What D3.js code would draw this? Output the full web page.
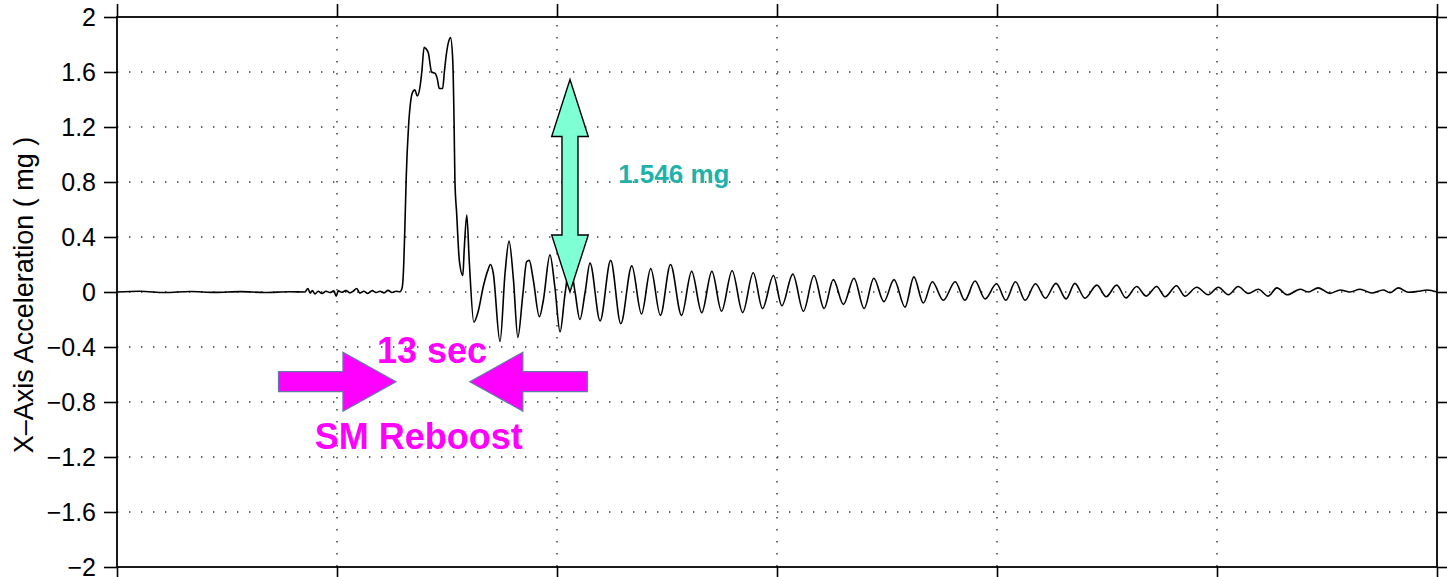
<!DOCTYPE html>
<html>
<head>
<meta charset="utf-8">
<script src="https://cdn.jsdelivr.net/npm/d3@7"></script>
<style>
  html, body { margin: 0; padding: 0; background: #fff; }
  svg { display: block; font-family: "Liberation Sans", Arial, Helvetica, sans-serif; }
</style>
</head>
<body>
<svg id="chart" width="1447" height="577"></svg>
<script>
// time since start of record (sec)
const timeSec = [
  0, 5.2, 10.9, 16.6, 22.3, 28.0, 33.6, 39.3, 42.7, 43.4, 43.9, 44.4, 45.0, 45.7, 46.6, 47.5,
  48.4, 49.3, 49.8, 50.3, 51.1, 52.0, 52.95, 53.6, 54.5, 55.2, 56.1, 57.0, 58.0, 58.9, 59.8,
  60.7, 61.6, 62.5, 63.4, 64.3, 64.8, 65.1, 65.45, 65.75, 66.25, 66.8, 67.3, 67.7, 68.25,
  68.9, 69.3, 69.8, 70.2, 70.75, 71.5, 72.3, 72.8, 73.25, 74.0, 74.4, 74.9, 75.45, 75.8,
  76.3, 76.6, 76.8, 77.2, 77.8, 78.6, 78.9, 79.5, 80.05, 81.1, 82.1, 83.25, 84.2, 84.9,
  85.5, 87.05, 88.2, 89.1, 90.1, 91.1, 92.2, 93.1, 93.7, 94.6, 96.0, 96.9, 98.4, 99.5,
  100.7, 101.8, 102.95, 104.1, 105.2, 106.4, 107.5, 109.8, 112.2, 114.5, 117.0, 119.2,
  121.3, 123.5, 125.8, 128.3, 130.6, 132.9, 135.2, 137.4, 139.8, 142.2, 144.6, 146.7,
  149.2, 151.1, 153.6, 156.0, 158.4, 160.7, 162.8, 165.1, 167.5, 169.8, 172.0, 174.3,
  176.6, 179.1, 181.1, 183.25, 185.3, 187.8, 190.5, 192.7, 195.0, 197.3, 199.9, 202.0,
  204.2, 206.4, 208.75, 211.0, 213.4, 215.7, 217.7, 220.0, 222.7, 224.8, 227.2, 229.3,
  231.75, 233.9, 236.3, 238.2, 240.8, 242.7, 245.4, 248.0, 250.3, 252.6, 254.8, 257.1,
  259.4, 261.65, 263.6, 266.0, 268.9, 270.75, 273.0, 275.7, 278.0, 280.2, 282.5, 285.2,
  287.8, 289.3, 291.2, 293.5, 295.7, 297.8, 300
];

// X-axis acceleration (mg)
const accelMg = [
  0, 0.005, -0.004, 0.004, -0.003, 0.003, -0.004, 0.002, 0.0, 0.025, -0.008, 0.01, -0.015, 0.006, -0.01, 0.006,
  -0.004, 0.008, -0.03, 0.008, -0.002, 0.01, -0.006, 0.004, 0.025, -0.008, 0.006, -0.01, 0.01, -0.004, 0.006,
  -0.006, 0.012, -0.004, 0.006, 0.002, 0.03, 0.15, 0.5, 0.85, 1.2, 1.4, 1.46, 1.47, 1.425,
  1.5, 1.61, 1.78, 1.77, 1.74, 1.60, 1.59, 1.55, 1.48, 1.48, 1.6, 1.74, 1.83, 1.85,
  1.69, 1.25, 0.81, 0.57, 0.23, 0.12, 0.30, 0.56, 0.23, -0.22, -0.14, 0.04, 0.15, 0.20,
  0.14, -0.36, 0.14, 0.37, 0.09, -0.33, -0.03, 0.22, 0.23, 0.09, -0.18, -0.06, 0.27, 0.04,
  -0.29, -0.02, 0.2, 0.0, -0.2, 0.0, 0.21, -0.21, 0.23, -0.23, 0.19, -0.16,
  0.17, -0.17, 0.20, -0.17, 0.15, -0.15, 0.15, -0.14, 0.155, -0.15, 0.14, -0.12,
  0.12, -0.10, 0.13, -0.14, 0.12, -0.12, 0.09, -0.09, 0.10, -0.12, 0.10, -0.07,
  0.09, -0.11, 0.11, -0.08, 0.075, -0.06, 0.075, -0.06, 0.08, -0.05, 0.06, -0.06,
  0.075, -0.06, 0.06, -0.045, 0.063, -0.05, 0.063, -0.045, 0.05, -0.035, 0.05, -0.043,
  0.04, -0.03, 0.04, -0.035, 0.045, -0.03, 0.035, -0.02, 0.035, -0.02, 0.04, -0.01,
  0.02, -0.03, 0.03, -0.02, 0.02, 0.0, 0.03, -0.01, 0.015, 0.0, 0.02, -0.007,
  0.015, -0.005, 0.03, -0.002, 0.005, 0.015, 0.0
];

const yTicks = [-2, -1.6, -1.2, -0.8, -0.4, 0, 0.4, 0.8, 1.2, 1.6, 2];
const xTicks = [0, 50, 100, 150, 200, 250, 300];

const yTitle = 'X\u2013Axis Acceleration ( mg )';

// annotations (data units)
const peakLabel = '1.546 mg';
const peakArrow = { t: 102.95, from: 0, to: 1.546 };
const pulseLabels = ['13 sec', 'SM Reboost'];

const width = 1447, height = 577;
const margin = { top: 17, right: 10, bottom: 10, left: 117 };

const svg = d3.select('#chart');

const x = d3.scaleLinear().domain([0, 300]).range([margin.left, width - margin.right]);
const y = d3.scaleLinear().domain([-2, 2]).range([height - margin.bottom, margin.top]);

const fmt = d => (d < 0 ? '\u2212' : '') + Math.abs(d);

// dotted grid
svg.append('g')
  .selectAll('line')
  .data(yTicks.slice(1, -1))
  .join('line')
  .attr('x1', x(0)).attr('x2', x(300))
  .attr('y1', d => y(d)).attr('y2', d => y(d))
  .attr('stroke', '#333').attr('stroke-width', 1.4)
  .attr('stroke-dasharray', '1.4,10.6');

svg.append('g')
  .selectAll('line')
  .data(xTicks.slice(1, -1))
  .join('line')
  .attr('x1', d => x(d)).attr('x2', d => x(d))
  .attr('y1', y(2)).attr('y2', y(-2))
  .attr('stroke', '#333').attr('stroke-width', 1.4)
  .attr('stroke-dasharray', '1.4,10.6')
  .attr('stroke-dashoffset', -8);

// the trace
const points = timeSec.map((t, i) => [t, accelMg[i]]);
const line = d3.line()
  .x(d => x(d[0]))
  .y(d => y(d[1]))
  .curve(d3.curveMonotoneX);

svg.append('path')
  .datum(points)
  .attr('d', line)
  .attr('fill', 'none')
  .attr('stroke', '#000')
  .attr('stroke-width', 1.6)
  .attr('stroke-linejoin', 'round');

// axes
const leftAxis = svg.append('g')
  .attr('transform', `translate(${margin.left},0)`)
  .call(d3.axisLeft(y).tickValues(yTicks).tickFormat(fmt).tickSize(13).tickSizeOuter(0).tickPadding(8));
leftAxis.select('.domain').remove();
leftAxis.selectAll('text').attr('font-size', 25).attr('fill', '#000').attr('font-family', null);

const rightAxis = svg.append('g')
  .attr('transform', `translate(${width - margin.right},0)`)
  .call(d3.axisRight(y).tickValues(yTicks).tickFormat('').tickSize(10).tickSizeOuter(0));
rightAxis.select('.domain').remove();

const topAxis = svg.append('g')
  .attr('transform', `translate(0,${margin.top})`)
  .call(d3.axisTop(x).tickValues(xTicks).tickFormat('').tickSize(13).tickSizeOuter(0));
topAxis.select('.domain').remove();

const bottomAxis = svg.append('g')
  .attr('transform', `translate(0,${height - margin.bottom})`)
  .call(d3.axisBottom(x).tickValues(xTicks).tickFormat('').tickSize(10).tickSizeOuter(0));
bottomAxis.select('.domain').remove();

svg.selectAll('.tick line').attr('stroke', '#000').attr('stroke-width', 1.6);

svg.append('rect')
  .attr('x', x(0)).attr('y', y(2))
  .attr('width', x(300) - x(0)).attr('height', y(-2) - y(2))
  .attr('fill', 'none').attr('stroke', '#000').attr('stroke-width', 1.8);

// y title
svg.append('text')
  .attr('transform', `translate(33,${y(0) + 3}) rotate(-90)`)
  .attr('text-anchor', 'middle')
  .attr('font-size', 27)
  .text(yTitle);

// vertical double arrow (teal)
function vDoubleArrow(cx, yTop, yBot, headLen, headHalf, shaftHalf) {
  return [
    [cx, yTop],
    [cx + headHalf, yTop + headLen],
    [cx + shaftHalf, yTop + headLen],
    [cx + shaftHalf, yBot - headLen],
    [cx + headHalf, yBot - headLen],
    [cx, yBot],
    [cx - headHalf, yBot - headLen],
    [cx - shaftHalf, yBot - headLen],
    [cx - shaftHalf, yTop + headLen],
    [cx - headHalf, yTop + headLen]
  ];
}

svg.append('path')
  .attr('d', d3.line()(vDoubleArrow(x(peakArrow.t), y(peakArrow.to), y(peakArrow.from), 57, 18.3, 8)) + 'Z')
  .attr('fill', '#7fffd4')
  .attr('stroke', '#000')
  .attr('stroke-width', 1.4);

svg.append('text')
  .attr('x', x(113.9)).attr('y', y(0.79))
  .attr('font-size', 26)
  .attr('font-weight', 'bold')
  .attr('fill', '#20b2aa')
  .text(peakLabel);

// horizontal magenta arrows
function hArrow(tail, tip, cy, headLen, headHalf, shaftHalf) {
  const dir = tip > tail ? 1 : -1;
  const base = tip - dir * headLen;
  return [
    [tail, cy - shaftHalf],
    [base, cy - shaftHalf],
    [base, cy - headHalf],
    [tip, cy],
    [base, cy + headHalf],
    [base, cy + shaftHalf],
    [tail, cy + shaftHalf]
  ];
}

const arrowY = y(-0.652);
[[36.7, 63.4], [106.9, 80.2]].forEach(([t0, t1]) => {
  svg.append('path')
    .attr('d', d3.line()(hArrow(x(t0), x(t1), arrowY, 53, 29.5, 10)) + 'Z')
    .attr('fill', '#ff00ff')
    .attr('stroke', '#6677aa')
    .attr('stroke-width', 1.2);
});

svg.append('text')
  .attr('x', x(71.6)).attr('y', y(-0.519))
  .attr('text-anchor', 'middle')
  .attr('font-size', 36)
  .attr('font-weight', 'bold')
  .attr('fill', '#ff00ff')
  .text(pulseLabels[0]);

svg.append('text')
  .attr('x', x(68.6)).attr('y', y(-1.144))
  .attr('text-anchor', 'middle')
  .attr('font-size', 36)
  .attr('font-weight', 'bold')
  .attr('fill', '#ff00ff')
  .text(pulseLabels[1]);
</script>
</body>
</html>
